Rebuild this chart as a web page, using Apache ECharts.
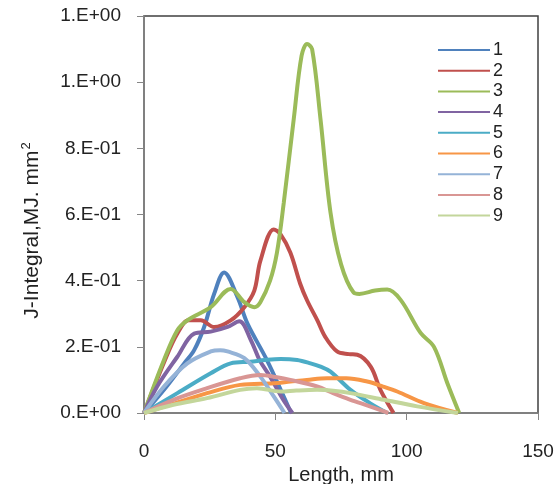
<!DOCTYPE html>
<html>
<head>
<meta charset="utf-8">
<script src="https://cdn.jsdelivr.net/npm/echarts@6/dist/echarts.min.js"></script>
<style>
html,body{margin:0;padding:0;background:#fff;}
#chart{width:556px;height:484px;}
</style>
</head>
<body>
<div id="chart"></div>
<script>
const seriesNames = ['1','2','3','4','5','6','7','8','9'];
const colors = ['#4F81BD','#C0504D','#9BBB59','#8064A2','#4BACC6','#F79646','#95B3D7','#D99694','#C3D69B'];
const xTicks = [0, 50, 100, 150];
const yTickLabels = ['0.E+00','2.E-01','4.E-01','6.E-01','8.E-01','1.E+00','1.E+00'];

const s1 = [[0,0],[7.6,0.07],[15.3,0.15],[19.1,0.19],[22.9,0.26],[26.7,0.36],[30.5,0.425],[35.6,0.35],[39.4,0.27],[46.8,0.16],[53.2,0.05],[56,0]];
const s2 = [[0,0],[8,0.16],[12.7,0.24],[17,0.28],[21.6,0.28],[26.7,0.26],[33,0.28],[38.2,0.32],[42,0.37],[44.3,0.46],[49.4,0.555],[52,0.54],[55.7,0.485],[59.5,0.39],[62.1,0.34],[66,0.28],[69,0.23],[73.5,0.186],[78,0.178],[81.2,0.176],[86.3,0.14],[90,0.07],[95,0]];
const s3 = [[0,0],[7.6,0.16],[12.7,0.25],[16.5,0.28],[25.4,0.32],[33,0.375],[38.2,0.335],[42,0.32],[44.3,0.335],[48,0.4],[50.6,0.484],[53.2,0.635],[57,0.888],[60,1.08],[62.1,1.115],[64,1.1],[67.2,0.888],[71,0.606],[75,0.45],[79.8,0.364],[82,0.36],[88,0.37],[92.6,0.373],[97.7,0.342],[105.3,0.242],[110.4,0.2],[115.5,0.09],[120,0]];
const s4 = [[0,0],[5,0.08],[12.7,0.17],[19.1,0.24],[25.4,0.246],[31.8,0.26],[36.3,0.277],[40.7,0.22],[44,0.16],[48,0.11],[53,0.04],[56.5,0]];
const s5 = [[0,0],[12.7,0.06],[25.4,0.12],[33,0.15],[40.5,0.155],[46,0.16],[52,0.163],[58.3,0.16],[63.4,0.15],[67.2,0.14],[71,0.125],[78.6,0.07],[86,0.03],[92.6,0]];
const s6 = [[0,0],[12,0.03],[24,0.06],[36.6,0.085],[49.4,0.09],[55.7,0.095],[62,0.1],[69.7,0.105],[77,0.105],[85,0.095],[91,0.08],[96.4,0.065],[106.6,0.03],[119.5,0]];
const s7 = [[0,0],[7.6,0.08],[16.5,0.15],[25.4,0.186],[29,0.19],[31.8,0.186],[38.2,0.166],[44.3,0.11],[49.4,0.05],[53.5,0]];
const s8 = [[0,0],[11.2,0.04],[24,0.075],[36.6,0.105],[44.3,0.115],[50.6,0.108],[55.7,0.1],[65.9,0.08],[72,0.06],[78.6,0.04],[86,0.02],[93,0]];
const s9 = [[0,0],[11.2,0.025],[24,0.045],[36.6,0.07],[43,0.075],[52,0.065],[58,0.068],[65.9,0.07],[72,0.067],[78.6,0.06],[91.3,0.04],[104,0.02],[119.5,0]];
const allData = [s1,s2,s3,s4,s5,s6,s7,s8,s9];

const chart = echarts.init(document.getElementById('chart'));
const font = 'Liberation Sans, Arial, sans-serif';
chart.setOption({
  animation: false,
  color: colors,
  grid: {left:144, right:18, top:16, bottom:71, show:true, borderColor:'#404040', borderWidth:1.5,
         backgroundColor:'transparent', containLabel:false, outerBoundsMode:'none'},
  legend: {
    orient:'vertical', left:433, top:36, icon:'rect', itemWidth:52, itemHeight:2,
    itemGap:2.7, data: seriesNames,
    textStyle:{fontFamily:font, fontSize:18, lineHeight:18, color:'#222', padding:[0,0,0,-2]}
  },
  xAxis: {
    type:'value', min:0, max:150, interval:50,
    name:'Length, mm', nameLocation:'middle', nameGap:47,
    nameTextStyle:{fontFamily:font, fontSize:20, color:'#222'},
    axisLine:{show:true, lineStyle:{color:'#868686', width:1.5}},
    axisTick:{show:true, length:7, lineStyle:{color:'#868686'}},
    axisLabel:{fontFamily:font, fontSize:19, color:'#222', margin:29,
      formatter: v => String(xTicks[Math.round(v/50)])},
    splitLine:{show:false}
  },
  yAxis: {
    type:'value', min:0, max:1.2, interval:0.2,
    name:'{a|J-Integral,MJ. mm}{s|2}', nameLocation:'middle', nameGap:100,
    nameTextStyle:{fontFamily:font, fontSize:21, color:'#222', padding:[0,32,0,0],
      rich:{a:{fontFamily:font, fontSize:21, color:'#222'}, s:{fontFamily:font, fontSize:13, color:'#222', verticalAlign:'top', padding:[0,0,11,1]}}},
    axisLine:{show:true, lineStyle:{color:'#868686', width:1.5}},
    axisTick:{show:true, length:7, lineStyle:{color:'#868686'}},
    axisLabel:{fontFamily:font, fontSize:19, color:'#222', margin:23,
      formatter: v => yTickLabels[Math.round(v/0.2)]},
    splitLine:{show:false}
  },
  series: allData.map((d,i) => ({
    name: seriesNames[i], type:'line', data:d, smooth:0.35, showSymbol:false,
    lineStyle:{width:4, color:colors[i]}, itemStyle:{color:colors[i]}
  }))
});
</script>
</body>
</html>
